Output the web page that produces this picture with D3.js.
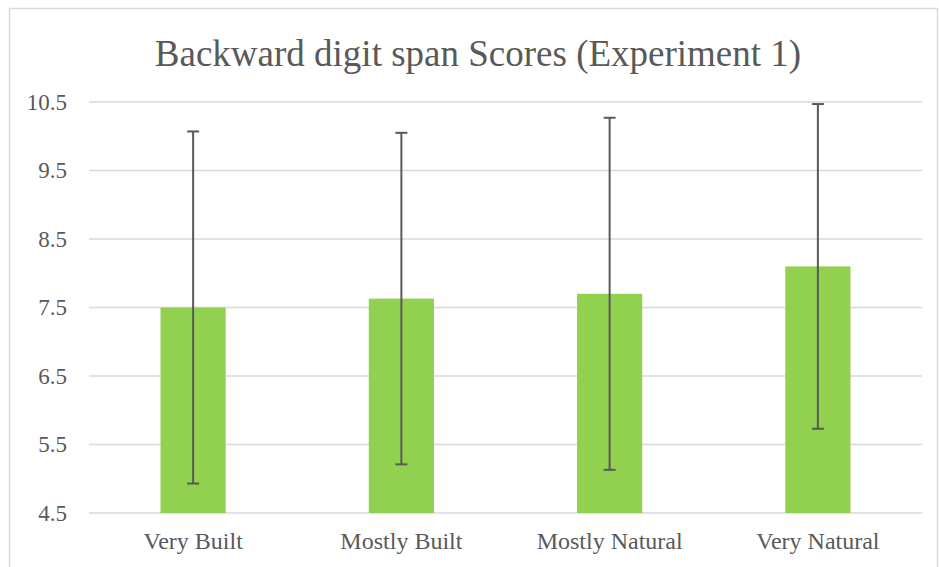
<!DOCTYPE html>
<html>
<head>
<meta charset="utf-8">
<script src="https://cdn.jsdelivr.net/npm/d3@7"></script>
<style>
  body { margin: 0; background: #fff; }
  text { font-family: "Liberation Serif", "Times New Roman", serif; fill: #595959; }
</style>
</head>
<body>
<svg id="chart" width="939" height="567"></svg>
<script>
const categories = ["Very Built", "Mostly Built", "Mostly Natural", "Very Natural"];
const means = [7.50, 7.63, 7.70, 8.10];
const errors = [2.57, 2.42, 2.57, 2.37];
const yTicks = [4.5, 5.5, 6.5, 7.5, 8.5, 9.5, 10.5];
const title = "Backward digit span Scores (Experiment 1)";

const margin = {top: 102, right: 17, bottom: 54, left: 89},
  width = 939 - margin.left - margin.right,
  height = 567 - margin.top - margin.bottom;

const svg = d3.select("#chart");

// outer chart border
svg.append("rect")
  .attr("x", 9.5).attr("y", 8.5)
  .attr("width", 928).attr("height", 600)
  .attr("fill", "none")
  .attr("stroke", "#d9d9d9")
  .attr("stroke-width", 1.5);

svg.append("text")
  .attr("x", 478)
  .attr("y", 66)
  .attr("text-anchor", "middle")
  .style("font-size", "37px")
  .text(title);

const g = svg.append("g")
  .attr("transform", "translate(" + margin.left + "," + margin.top + ")");

const x = d3.scaleBand().domain(categories).range([0, width]).padding(0);
const y = d3.scaleLinear().domain([4.5, 10.5]).range([height, 0]);
const barW = x.bandwidth() * 0.313;

// gridlines
g.selectAll(".grid")
  .data(yTicks)
  .enter().append("line")
  .attr("x1", 0).attr("x2", width)
  .attr("y1", d => y(d)).attr("y2", d => y(d))
  .attr("stroke", "#d9d9d9")
  .attr("stroke-width", 1.5);

// y axis labels
const yAxis = d3.axisLeft(y).tickValues(yTicks).tickFormat(d3.format(".1f")).tickSize(0).tickPadding(22);
g.append("g").call(yAxis)
  .call(s => s.select(".domain").remove())
  .selectAll("text")
  .style("font-size", "23px")
  .attr("fill", "#595959");

// x axis labels
const xAxis = d3.axisBottom(x).tickSize(0).tickPadding(19);
g.append("g")
  .attr("transform", "translate(0," + height + ")")
  .call(xAxis)
  .call(s => s.select(".domain").remove())
  .selectAll("text")
  .style("font-size", "24px")
  .attr("fill", "#595959");

// bars
g.selectAll(".bar")
  .data(categories)
  .enter().append("rect")
  .attr("x", d => x(d) + (x.bandwidth() - barW) / 2)
  .attr("y", (d, i) => y(means[i]))
  .attr("width", barW)
  .attr("height", (d, i) => height - y(means[i]))
  .attr("fill", "#92d050");

// error bars
const eb = g.selectAll(".err")
  .data(categories)
  .enter().append("g")
  .attr("transform", d => "translate(" + (x(d) + x.bandwidth() / 2) + ",0)");

eb.append("line")
  .attr("x1", 0).attr("x2", 0)
  .attr("y1", (d, i) => y(means[i] + errors[i]))
  .attr("y2", (d, i) => y(means[i] - errors[i]))
  .attr("stroke", "#595959").attr("stroke-width", 2);

[1, -1].forEach(sign => {
  eb.append("line")
    .attr("x1", -6).attr("x2", 6)
    .attr("y1", (d, i) => y(means[i] + sign * errors[i]))
    .attr("y2", (d, i) => y(means[i] + sign * errors[i]))
    .attr("stroke", "#595959").attr("stroke-width", 2);
});
</script>
</body>
</html>
